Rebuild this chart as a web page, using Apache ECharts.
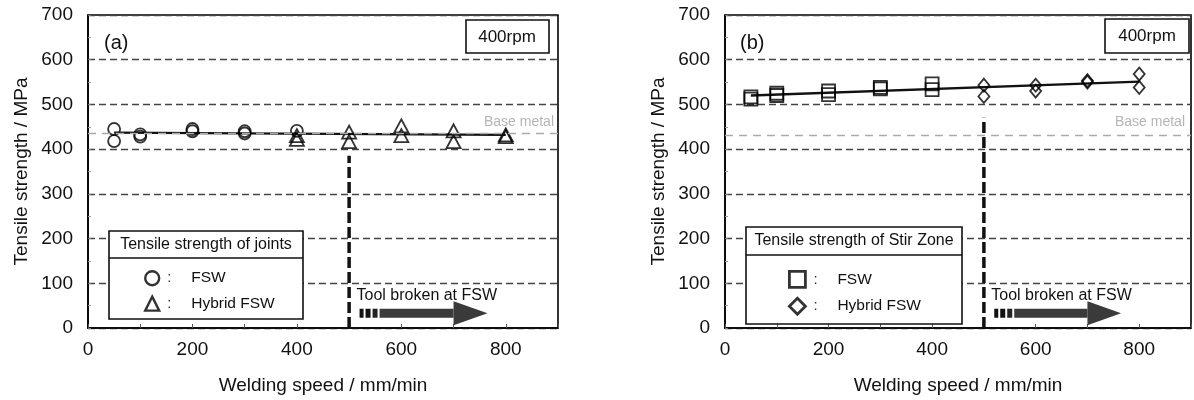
<!DOCTYPE html>
<html>
<head>
    <meta charset="utf-8">
    <title>Tensile strength vs welding speed</title>
    <script type="text/javascript" src="https://cdn.jsdelivr.net/npm/echarts@6/dist/echarts.min.js"></script>
    <style>
        html, body { margin: 0; padding: 0; background: #fff; }
        #chart { width: 1194px; height: 400px; }
    </style>
</head>
<body>
<div id="chart"></div>

<script type="text/javascript">
    // welding speed (mm/min) vs tensile strength (MPa)
    var jointFsw    = [[50,445],[50,418],[100,433],[100,428],[200,445],[200,440],[300,440],[300,435],[400,441]];
    var jointHybrid = [[400,430],[400,422],[500,438],[500,417],[600,452],[600,430],[700,441],[700,417],[800,432],[800,428]];
    var jointFit    = [[50,437],[800,432]];

    var szFsw    = [[50,517],[50,512],[100,525],[100,520],[200,530],[200,522],[300,538],[300,535],[400,546],[400,533]];
    var szHybrid = [[500,543],[500,518],[600,543],[600,530],[700,553],[700,550],[800,568],[800,538]];
    var szFit    = [[50,520],[800,551]];

    var baseMetal = [435, 432];                        // MPa, panel a / panel b
    var toolLimitA = [[500,0],[500,385]];
    var toolLimitB = [[500,0],[500,470]];
    // start, level, tip, head base, text level
    var brokenArrow = [[520, 33, 765, 700, 73]];

    var xTicks = [0, 100, 200, 300, 400, 500, 600, 700, 800, 900];
    var yTicks = [0, 100, 200, 300, 400, 500, 600, 700];

    var FONT = 'Liberation Sans, Arial, sans-serif';
    var myChart = echarts.init(document.getElementById('chart'));

    function xAxisOf(i) {
        return {
            gridIndex: i, type: 'value',
            min: xTicks[0], max: xTicks[xTicks.length - 1], interval: xTicks[1] - xTicks[0],
            name: 'Welding speed / mm/min', nameLocation: 'middle', nameGap: 48,
            nameTextStyle: { fontFamily: FONT, fontSize: 19, color: '#111' },
            axisLine: { lineStyle: { color: '#000', width: 1.6 } },
            axisTick: { inside: true, length: 4, lineStyle: { color: '#555' } },
            axisLabel: {
                margin: 12, fontFamily: FONT, fontSize: 19, color: '#111',
                formatter: function (v) { return (v % 200 === 0 && v < 900) ? String(v) : ''; }
            },
            splitLine: { show: false }
        };
    }
    function yAxisOf(i) {
        return {
            gridIndex: i, type: 'value',
            min: yTicks[0], max: yTicks[yTicks.length - 1], interval: yTicks[1] - yTicks[0],
            name: 'Tensile strength / MPa', nameLocation: 'middle', nameGap: 57,
            nameTextStyle: { fontFamily: FONT, fontSize: 19, color: '#111' },
            axisLine: { lineStyle: { color: '#000', width: 1.6 } },
            axisTick: { inside: true, length: 3, lineStyle: { color: '#777' } },
            minorTick: { show: true, splitNumber: 2, length: 3, lineStyle: { color: '#999' } },
            axisLabel: { margin: 15, fontFamily: FONT, fontSize: 19, color: '#111' },
            splitLine: { lineStyle: { color: '#444', type: [7, 4], width: 1.4 } }
        };
    }

    function markerStyle(w) {
        return { color: 'rgba(0,0,0,0)', borderColor: '#000', borderWidth: w };
    }

    function renderArrow(params, api) {
        var s = api.coord([api.value(0), api.value(1)]);
        var e = api.coord([api.value(2), api.value(1)]);
        var h = api.coord([api.value(3), api.value(1)]);
        var t = api.coord([api.value(0), api.value(4)]);
        var y = s[1];
        return {
            type: 'group',
            children: [
                { type: 'rect', shape: { x: s[0], y: y - 4.5, width: 4, height: 9 }, style: { fill: '#111' } },
                { type: 'rect', shape: { x: s[0] + 6, y: y - 4.5, width: 5, height: 9 }, style: { fill: '#111' } },
                { type: 'rect', shape: { x: s[0] + 13, y: y - 4.5, width: 5, height: 9 }, style: { fill: '#222' } },
                { type: 'rect', shape: { x: s[0] + 20, y: y - 4.5, width: h[0] - s[0] - 20, height: 9 }, style: { fill: '#3a3a3a' } },
                { type: 'polygon', shape: { points: [[h[0], y - 12], [e[0], y], [h[0], y + 12]] }, style: { fill: '#3a3a3a' } },
                { type: 'text', x: t[0] - 3, y: t[1],
                  style: { text: 'Tool broken at FSW', fontFamily: FONT, fontSize: 16, fill: '#111', verticalAlign: 'middle' } }
            ]
        };
    }

    var legendRich = {
        c: { width: 24, padding: [0, 0, 0, 3], fontFamily: FONT, fontSize: 15, color: '#333' },
        t: { fontFamily: FONT, fontSize: 15.5, color: '#111' }
    };
    var legendLabels = {
        'FSW (joints)': 'FSW', 'Hybrid FSW (joints)': 'Hybrid FSW',
        'FSW (stir zone)': 'FSW', 'Hybrid FSW (stir zone)': 'Hybrid FSW'
    };
    function legendFormatter(name) { return '{c|:}{t|' + legendLabels[name] + '}'; }

    function boxGraphic(x, y, w, h) {
        return { type: 'rect', shape: { x: x, y: y, width: w, height: h }, style: { fill: '#fff', stroke: '#111', lineWidth: 1.6 }, z: 5 };
    }
    function textGraphic(x, y, txt, size, align) {
        return { type: 'text', x: x, y: y, z: 6,
                 style: { text: txt, fontFamily: FONT, fontSize: size, fill: '#111', align: align || 'center', verticalAlign: 'middle' } };
    }

    option = {
        backgroundColor: '#fff',
        animation: false,
        grid: [
            { left: 88, right: 636, top: 15, bottom: 69, show: true, borderColor: '#000', borderWidth: 1.6 },
            { left: 725, right: -1, top: 15, bottom: 69, show: true, borderColor: '#000', borderWidth: 1.6 }
        ],
        xAxis: [xAxisOf(0), xAxisOf(1)],
        yAxis: [yAxisOf(0), yAxisOf(1)],
        legend: [
            {
                orient: 'vertical', left: 139, top: 265, itemWidth: 14, itemHeight: 14, itemGap: 9,
                data: [{ name: 'FSW (joints)', icon: 'circle' }, { name: 'Hybrid FSW (joints)', icon: 'triangle' }],
                itemStyle: { color: '#fff', borderColor: '#000', borderWidth: 2.4 },
                formatter: legendFormatter, textStyle: { rich: legendRich }, selectedMode: false, z: 10
            },
            {
                orient: 'vertical', left: 783, top: 265, itemWidth: 16, itemHeight: 16, itemGap: 8,
                data: [{ name: 'FSW (stir zone)', icon: 'rect' }, { name: 'Hybrid FSW (stir zone)', icon: 'diamond' }],
                itemStyle: { color: '#fff', borderColor: '#000', borderWidth: 2.8 },
                formatter: legendFormatter, textStyle: { rich: legendRich }, selectedMode: false, z: 10
            }
        ],
        graphic: [
            boxGraphic(109, 231, 194, 88),
            { type: 'line', shape: { x1: 109, y1: 258, x2: 303, y2: 258 }, style: { stroke: '#111', lineWidth: 1.6 }, z: 6 },
            textGraphic(206, 245, 'Tensile strength of joints', 16),
            boxGraphic(746, 227, 216, 97),
            { type: 'line', shape: { x1: 746, y1: 255, x2: 962, y2: 255 }, style: { stroke: '#111', lineWidth: 1.6 }, z: 6 },
            textGraphic(854, 241, 'Tensile strength of Stir Zone', 16),
            boxGraphic(466, 20, 83, 33),
            textGraphic(507, 37, '400rpm', 17),
            boxGraphic(1105, 19, 84, 34),
            textGraphic(1147, 36, '400rpm', 17),
            textGraphic(104, 43, '(a)', 20, 'left'),
            textGraphic(740, 43, '(b)', 20, 'left')
        ],
        series: [
            {
                name: 'Base metal (a)', type: 'line', xAxisIndex: 0, yAxisIndex: 0, data: [], silent: true,
                markLine: {
                    symbol: 'none', silent: true, animation: false,
                    lineStyle: { color: '#aaa', type: [8, 6], width: 1.3 },
                    label: { position: 'insideEndTop', formatter: 'Base metal', fontFamily: FONT, fontSize: 14, color: '#b5b5b5', distance: [4, 4] },
                    data: [{ yAxis: baseMetal[0] }]
                }
            },
            {
                name: 'Base metal (b)', type: 'line', xAxisIndex: 1, yAxisIndex: 1, data: [], silent: true,
                markLine: {
                    symbol: 'none', silent: true, animation: false,
                    lineStyle: { color: '#aaa', type: [8, 6], width: 1.3 },
                    label: { position: 'insideEndTop', formatter: 'Base metal', fontFamily: FONT, fontSize: 14, color: '#b5b5b5', distance: [6, 6] },
                    data: [{ yAxis: baseMetal[1] }]
                }
            },
            { name: 'limit a', type: 'line', xAxisIndex: 0, yAxisIndex: 0, data: toolLimitA, symbol: 'none',
              lineStyle: { color: '#111', width: 3.5, type: [11, 4] }, z: 3 },
            { name: 'limit b', type: 'line', xAxisIndex: 1, yAxisIndex: 1, data: toolLimitB, symbol: 'none',
              lineStyle: { color: '#111', width: 3.5, type: [11, 4] }, z: 3 },
            { name: 'fit a', type: 'line', xAxisIndex: 0, yAxisIndex: 0, data: jointFit, symbol: 'none',
              lineStyle: { color: '#111', width: 2.3 }, z: 3 },
            { name: 'fit b', type: 'line', xAxisIndex: 1, yAxisIndex: 1, data: szFit, symbol: 'none',
              lineStyle: { color: '#111', width: 2.3 }, z: 3 },
            { name: 'FSW (joints)', type: 'scatter', xAxisIndex: 0, yAxisIndex: 0, data: jointFsw,
              symbol: 'circle', symbolSize: 12, itemStyle: markerStyle(1.8), z: 4 },
            { name: 'Hybrid FSW (joints)', type: 'scatter', xAxisIndex: 0, yAxisIndex: 0, data: jointHybrid,
              symbol: 'triangle', symbolSize: [14, 13], itemStyle: markerStyle(1.8), z: 4 },
            { name: 'FSW (stir zone)', type: 'scatter', xAxisIndex: 1, yAxisIndex: 1, data: szFsw,
              symbol: 'rect', symbolSize: 13, itemStyle: markerStyle(1.8), z: 4 },
            { name: 'Hybrid FSW (stir zone)', type: 'scatter', xAxisIndex: 1, yAxisIndex: 1, data: szHybrid,
              symbol: 'diamond', symbolSize: [11, 13], itemStyle: markerStyle(1.8), z: 4 },
            { name: 'arrow a', type: 'custom', xAxisIndex: 0, yAxisIndex: 0, data: brokenArrow, renderItem: renderArrow, silent: true, z: 4 },
            { name: 'arrow b', type: 'custom', xAxisIndex: 1, yAxisIndex: 1, data: brokenArrow, renderItem: renderArrow, silent: true, z: 4 }
        ]
    };
    myChart.setOption(option);
</script>
</body>
</html>
